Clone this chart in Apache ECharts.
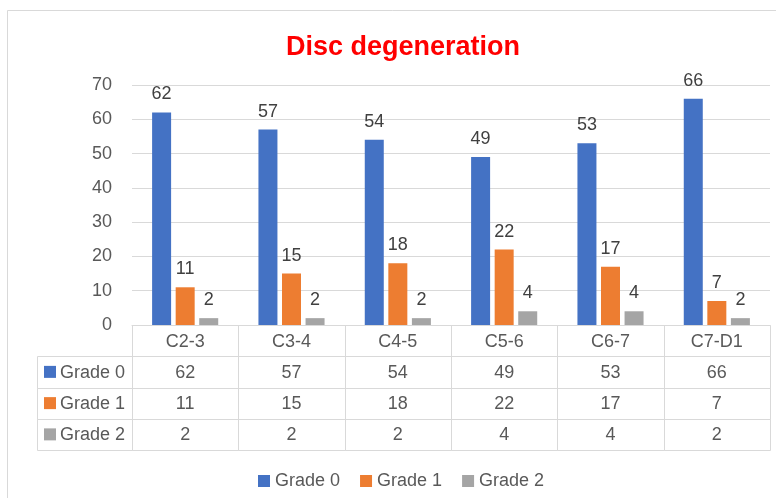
<!DOCTYPE html>
<html>
<head>
<meta charset="utf-8">
<script src="https://cdn.jsdelivr.net/npm/echarts@6/dist/echarts.min.js"></script>
<style>
  html, body { margin: 0; padding: 0; background: #fff; }
  #chart { width: 776px; height: 498px; }
</style>
</head>
<body>
<div id="chart"></div>
<script>
// data
const levels = ['C2-3', 'C3-4', 'C4-5', 'C5-6', 'C6-7', 'C7-D1'];
const seriesNames = ['Grade 0', 'Grade 1', 'Grade 2'];
const grade0 = [62, 57, 54, 49, 53, 66];
const grade1 = [11, 15, 18, 22, 17, 7];
const grade2 = [2, 2, 2, 4, 4, 2];
const yTicks = [0, 10, 20, 30, 40, 50, 60, 70];

const colors = ['#4472c4', '#ed7d31', '#a5a5a5'];
const FONT = 'Liberation Sans';
const LINE = '#d9d9d9';
const TXT = '#595959';

const values = [grade0, grade1, grade2];
const tableRows = ['', ...seriesNames];

// one cell per (column, row); row 0 is the header with the category names
const tableData = [];
tableRows.forEach((row, r) => {
  levels.forEach((lv, c) => {
    tableData.push([c, r]);
  });
});

const chart = echarts.init(document.getElementById('chart'));

const barSeries = seriesNames.map((name, i) => ({
  name,
  type: 'bar',
  xAxisIndex: 0,
  yAxisIndex: 0,
  data: values[i],
  barWidth: 19,
  barGap: '24%',
  itemStyle: { color: colors[i] },
  label: {
    show: true,
    position: 'top',
    distance: 9,
    color: '#404040',
    fontSize: 18,
    fontFamily: FONT,
  },
}));

// crisp cell border: edges snapped to half pixels
const cellRect = (x0, y0, x1, y1) => {
  const l = Math.round(x0), t = Math.round(y0);
  const r = Math.round(x1), b = Math.round(y1);
  return {
    type: 'rect',
    shape: { x: l + 0.5, y: t + 0.5, width: r - l, height: b - t },
    style: { fill: 'none', stroke: LINE, lineWidth: 1 },
  };
};

const tableSeries = {
  type: 'custom',
  xAxisIndex: 1,
  yAxisIndex: 1,
  silent: true,
  data: tableData,
  renderItem: (params, api) => {
    const c = api.value(0);
    const r = api.value(1);
    const p = api.coord([c, r]);
    const s = api.size([1, 1]);
    const x0 = p[0] - s[0] / 2;
    const y0 = p[1] - s[1] / 2;
    const text = r === 0 ? levels[c] : String(values[r - 1][c]);
    const children = [
      cellRect(x0, y0, x0 + s[0], y0 + s[1]),
      {
        type: 'text',
        style: {
          text, x: p[0], y: p[1] + 1,
          align: 'center', verticalAlign: 'middle',
          fill: TXT, fontSize: 18, fontFamily: FONT,
        },
      },
    ];
    // row header cell to the left of the first column
    if (c === 0 && r > 0) {
      const w = 95;
      children.push(
        cellRect(x0 - w, y0, x0, y0 + s[1]),
        {
          type: 'rect',
          shape: { x: x0 - w + 7, y: p[1] - 6, width: 12, height: 12 },
          style: { fill: colors[r - 1] },
        },
        {
          type: 'text',
          style: {
            text: tableRows[r], x: x0 - w + 23, y: p[1] + 1,
            align: 'left', verticalAlign: 'middle',
            fill: TXT, fontSize: 18, fontFamily: FONT,
          },
        }
      );
    }
    return { type: 'group', children };
  },
};

const option = {
  animation: false,
  backgroundColor: '#fff',
  title: {
    text: 'Disc degeneration',
    left: 398,
    top: 29,
    textAlign: 'center',
    textStyle: { color: '#ff0000', fontSize: 27, fontWeight: 'bold', fontFamily: FONT },
  },
  legend: {
    data: seriesNames,
    left: 253,
    top: 467,
    icon: 'rect',
    itemWidth: 12,
    itemHeight: 12,
    itemGap: 20,
    textStyle: { color: TXT, fontSize: 18, fontFamily: FONT },
  },
  graphic: [
    {
      type: 'rect',
      shape: { x: 7.5, y: 10.5, width: 900, height: 600 },
      style: { fill: 'none', stroke: LINE, lineWidth: 1 },
      silent: true,
    },
  ],
  grid: [
    { left: 132, right: 6, top: 85, height: 240 },
    { left: 132, right: 6, top: 325, height: 125 },
  ],
  xAxis: [
    {
      gridIndex: 0,
      type: 'category',
      data: levels,
      axisLine: { lineStyle: { color: LINE } },
      axisTick: { show: false },
      axisLabel: { show: false },
    },
    {
      gridIndex: 1,
      type: 'category',
      data: levels,
      axisLine: { show: false },
      axisTick: { show: false },
      axisLabel: { show: false },
    },
  ],
  yAxis: [
    {
      gridIndex: 0,
      type: 'value',
      min: yTicks[0],
      max: yTicks[yTicks.length - 1],
      interval: yTicks[1] - yTicks[0],
      axisLine: { show: false },
      axisTick: { show: false },
      axisLabel: { color: TXT, fontSize: 18, fontFamily: FONT, margin: 20 },
      splitLine: { lineStyle: { color: LINE } },
    },
    {
      gridIndex: 1,
      type: 'category',
      inverse: true,
      data: tableRows.map((d, i) => String(i)),
      axisLine: { show: false },
      axisTick: { show: false },
      axisLabel: { show: false },
    },
  ],
  series: [...barSeries, tableSeries],
};

chart.setOption(option);
</script>
</body>
</html>
